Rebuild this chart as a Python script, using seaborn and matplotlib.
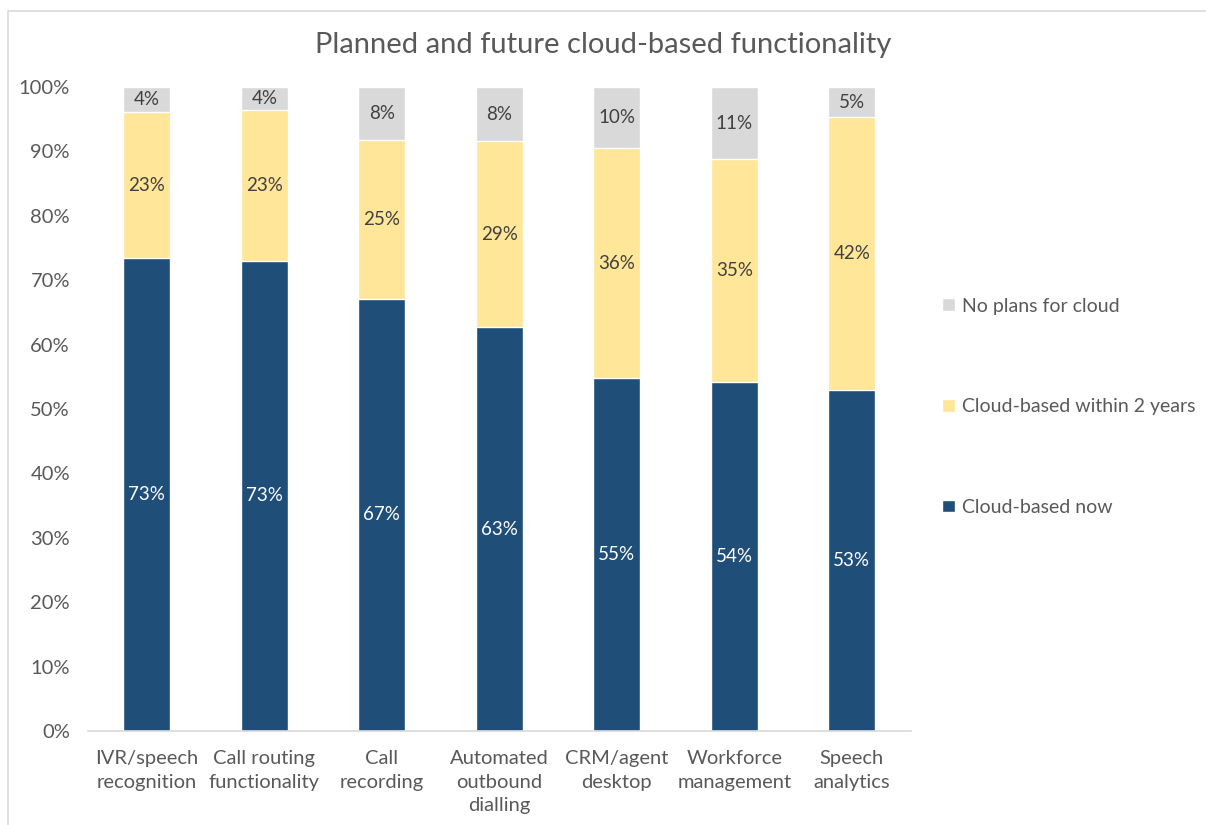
import numpy as np
import pandas as pd
import matplotlib
matplotlib.use("Agg")
import matplotlib.pyplot as plt
import seaborn as sns
from matplotlib.patches import Rectangle, Patch

# Data (percent)
categories = ["IVR/speech\nrecognition", "Call routing\nfunctionality", "Call\nrecording",
              "Automated\noutbound\ndialling", "CRM/agent\ndesktop", "Workforce\nmanagement",
              "Speech\nanalytics"]
cloud_now = [73.4, 73.0, 67.1, 62.7, 54.8, 54.2, 53.0]
within_2y = [22.7, 23.4, 24.6, 28.9, 35.7, 34.6, 42.3]
no_plans = [3.9, 3.6, 8.3, 8.4, 9.5, 11.2, 4.7]

series_names = ["Cloud-based now", "Cloud-based within 2 years", "No plans for cloud"]
colors = ["#1F4E79", "#FFE699", "#D9D9D9"]

sns.set_theme(style="white")
plt.rcParams['font.family'] = ['Lato', 'DejaVu Sans']
text_col = "#595959"

df = pd.DataFrame({"category": categories, "now": cloud_now,
                   "within": within_2y, "none": no_plans})
df["top2"] = df["now"] + df["within"]
df["top3"] = df["top2"] + df["none"]

fig = plt.figure(figsize=(12.06, 8.25), dpi=100)
ax = fig.add_axes([0.073, 0.114, 0.682, 0.7806])

# stacked by layering cumulative totals
sns.barplot(data=df, x="category", y="top3", color=colors[2], width=0.4,
            saturation=1, ax=ax)
sns.barplot(data=df, x="category", y="top2", color=colors[1], width=0.4,
            saturation=1, ax=ax)
sns.barplot(data=df, x="category", y="now", color=colors[0], width=0.4,
            saturation=1, ax=ax)

# segment labels
for i, row in df.iterrows():
    ax.text(i, row["now"] / 2, f"{row['now']:.0f}%", ha="center", va="center",
            color="white", fontsize=13.5)
    ax.text(i, row["now"] + row["within"] / 2, f"{row['within']:.0f}%", ha="center",
            va="center", color="#404040", fontsize=13.5)
    ax.text(i, row["top2"] + row["none"] / 2, f"{row['none']:.0f}%", ha="center",
            va="center", color="#404040", fontsize=13.5)

ax.set_ylim(0, 100)
ax.set_xlim(-0.5, len(categories) - 0.5)
ax.set_yticks(np.arange(0, 101, 10))
ax.set_yticklabels([f"{v}%" for v in range(0, 101, 10)])
ax.set_xlabel("")
ax.set_ylabel("")
ax.tick_params(axis="both", colors=text_col, labelsize=14.5, length=0)
ax.tick_params(axis="y", pad=13)
ax.tick_params(axis="x", pad=14)
for lbl in ax.get_xticklabels():
    lbl.set_verticalalignment("top")
    lbl.set_linespacing(1.45)
for side in ["top", "right", "left"]:
    ax.spines[side].set_visible(False)
ax.spines["bottom"].set_color("#D9D9D9")
ax.spines["bottom"].set_linewidth(1.2)

fig.text(0.5, 0.945, "Planned and future cloud-based functionality", ha="center",
         va="center", fontsize=21, color=text_col)

handles = [Patch(facecolor=colors[2]), Patch(facecolor=colors[1]), Patch(facecolor=colors[0])]
fig.legend(handles, [series_names[2], series_names[1], series_names[0]],
           loc="center left", bbox_to_anchor=(0.778, 0.507), frameon=False,
           fontsize=14, labelcolor=text_col, handlelength=0.65, handleheight=0.65,
           handletextpad=0.35, labelspacing=4.3, borderaxespad=0, borderpad=0.2)

# chart area border
fig.patches.append(Rectangle((8 / 1206, -0.01), 1.0, 0.998 - 9 / 825 + 0.01,
                             transform=fig.transFigure, fill=False,
                             edgecolor="#D9D9D9", linewidth=1.2))

fig.savefig("out.png", dpi=100)
